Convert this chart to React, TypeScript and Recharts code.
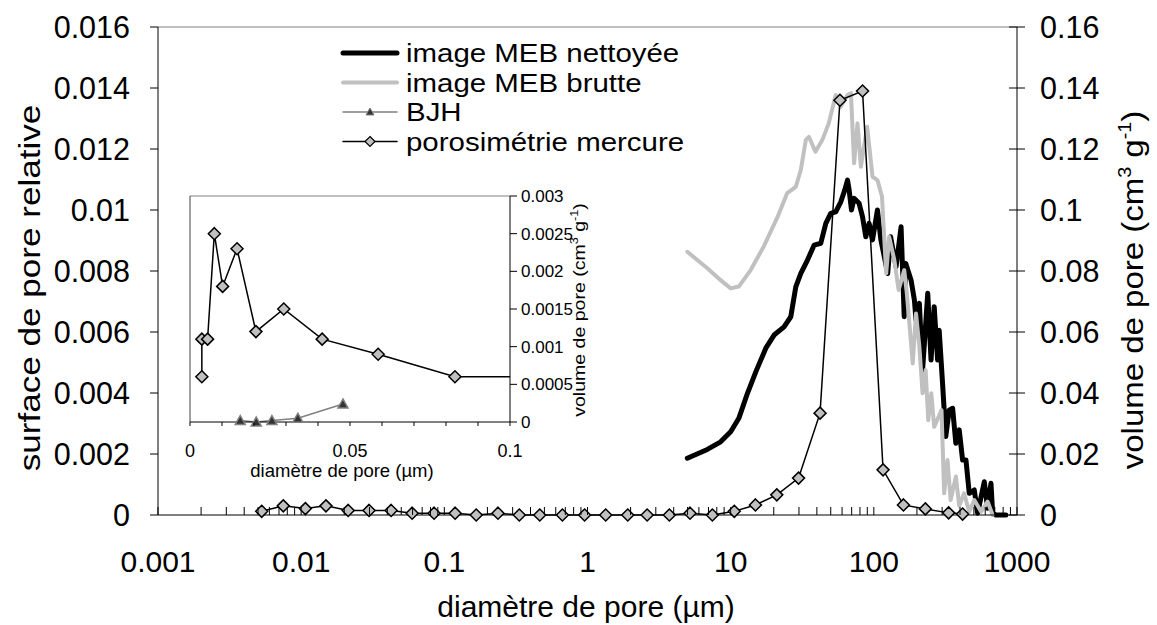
import React from "react";
import { LineChart, Line, XAxis, YAxis, ReferenceLine } from "recharts";

const FONT = "'Liberation Sans', Arial, Helvetica, sans-serif";
const W = 1157;
const H = 625;

// ---------- main chart: pore diameter (µm, log) ----------
const decadeTicks = [0.001, 0.01, 0.1, 1, 10, 100, 1000];
const decadeLabels = ["0.001", "0.01", "0.1", "1", "10", "100", "1000"];
const minorSteps = [2, 3, 4, 5, 6, 7, 8, 9];

const leftTicks = [0, 0.002, 0.004, 0.006, 0.008, 0.01, 0.012, 0.014, 0.016];
const leftLabels = ["0", "0.002", "0.004", "0.006", "0.008", "0.01", "0.012", "0.014", "0.016"];
const rightTicks = [0, 0.02, 0.04, 0.06, 0.08, 0.1, 0.12, 0.14, 0.16];
const rightLabels = ["0", "0.02", "0.04", "0.06", "0.08", "0.1", "0.12", "0.14", "0.16"];

// image MEB nettoyée (surface de pore relative)
const cleanD = [
  4.98, 6.87, 8.51, 10.0, 11.4, 13.1, 15.0, 17.6, 20.1, 23.6,
  26.3, 28.5, 30.9, 34.4, 38.3, 42.6, 46.2, 50.0, 54.2, 58.8,
  62.7, 65.5, 67.2, 69.8, 72.8, 78.9, 83.3, 87.9, 92.7, 97.9,
  106, 112, 125, 131, 143, 155, 163, 167, 182, 192,
  197, 208, 219, 238, 251, 264, 279, 286, 302, 318,
  336, 355, 374, 395, 417, 440, 464, 503, 531, 591,
  623, 658, 676, 713, 837,
];
const cleanV = [
  0.00186, 0.00215, 0.0024, 0.00273, 0.00317, 0.00399, 0.0047, 0.00547, 0.0059, 0.00617,
  0.0065, 0.00748, 0.00792, 0.00836, 0.00885, 0.00891, 0.00956, 0.00989, 0.00994, 0.01027,
  0.01066, 0.01098, 0.01066, 0.01, 0.01038, 0.01022, 0.00978, 0.00912, 0.00956, 0.00902,
  0.01, 0.00902, 0.00792, 0.00912, 0.00814, 0.00945, 0.0065, 0.00825, 0.0077, 0.00705,
  0.00639, 0.00694, 0.00475, 0.00727, 0.00508, 0.00683, 0.00508, 0.00606, 0.00432, 0.00257,
  0.00344, 0.0035, 0.00235, 0.00279, 0.0018, 0.0018, 0.00071, 0.00082, 0.00006, 0.00109,
  0.00022, 0.00104, 0.00006, 0, 0,
];

// image MEB brutte
const rawD = [
  4.98, 6.87, 8.51, 10.0, 11.4, 13.8, 17.0, 21.3, 24.8, 28.5,
  30.9, 33.5, 35.2, 39.1, 43.7, 48.4, 54.2, 58.8, 65.5, 69.2,
  72.8, 76.9, 81.2, 89.8, 97.9, 106, 114, 122, 128, 139,
  149, 163, 170, 187, 197, 208, 219, 230, 240, 252,
  264, 297, 310, 327, 344, 374, 395, 427, 464, 503,
  562, 623, 676,
];
const rawV = [
  0.00863, 0.00809, 0.0077, 0.00743, 0.00749, 0.00803, 0.0088, 0.00978, 0.01055, 0.01076,
  0.01131, 0.0123, 0.0124, 0.01191, 0.0123, 0.01284, 0.01377, 0.01339, 0.01377, 0.01383,
  0.01153, 0.01284, 0.01142, 0.01273, 0.01109, 0.01098, 0.01044, 0.00792, 0.00912, 0.00836,
  0.00738, 0.00803, 0.00727, 0.00497, 0.00661, 0.00552, 0.00399, 0.00475, 0.00311, 0.00399,
  0.00289, 0.00344, 0.00071, 0.0018, 0.00049, 0.00126, 0.0003, 0.00071, 0.00011, 0.00049,
  0.00011, 0.00044, 0,
];

// porosimétrie mercure (volume de pore, right axis)
const hgD = [
  0.0053, 0.0075, 0.0107, 0.0149, 0.0213, 0.0298, 0.0425, 0.0596, 0.0848, 0.119,
  0.167, 0.237, 0.334, 0.464, 0.668, 0.954, 1.34, 1.91, 2.61, 3.73,
  5.2, 7.45, 10.6, 14.9, 21.0, 29.8, 42.1, 58.0, 83.4, 116,
  161, 229, 333, 417,
];
const hgV = [
  0.0012, 0.003, 0.0021, 0.003, 0.0015, 0.0015, 0.0015, 0.0006, 0.0006, 0.0006,
  0, 0.0006, 0, 0, 0, 0, 0, 0, 0, 0,
  0.0006, 0, 0.0012, 0.0033, 0.0066, 0.0121, 0.0334, 0.136, 0.139, 0.0148,
  0.0033, 0.002, 0.0007, 0.0003,
];

// ---------- inset: linear diameter 0 - 0.1 µm ----------
const insetXTicks = [0, 0.01, 0.02, 0.03, 0.04, 0.05, 0.06, 0.07, 0.08, 0.09, 0.1];
const insetXLabels: Record<number, string> = { 0: "0", 5: "0.05", 10: "0.1" };
const insetYTicks = [0, 0.0005, 0.001, 0.0015, 0.002, 0.0025, 0.003];
const insetYLabels = ["0", "0.0005", "0.001", "0.0015", "0.002", "0.0025", "0.003"];

const insetHgD = [0.0037, 0.0037, 0.0055, 0.0076, 0.0102, 0.0147, 0.0206, 0.0293, 0.0413, 0.0588, 0.0828, 0.119];
const insetHgV = [0.0006, 0.0011, 0.0011, 0.0025, 0.0018, 0.0023, 0.0012, 0.0015, 0.0011, 0.0009, 0.0006, 0.0006];
const bjhD = [0.0157, 0.0207, 0.0256, 0.0337, 0.0478];
const bjhV = [0.00002, 0, 0.00002, 0.00005, 0.00024];

const legendItems = [
  { label: "image MEB nettoyée", color: "#000", width: 5, mark: "" },
  { label: "image MEB brutte", color: "#c0c0c0", width: 4, mark: "" },
  { label: "BJH", color: "#808080", width: 1.5, mark: "tri" },
  { label: "porosimétrie mercure", color: "#000", width: 1.5, mark: "dia" },
];

const rows = (d: number[], v: number[]) => d.map((x, i) => ({ d: x, v: v[i] }));

const mainXTicks = decadeTicks
  .slice(0, -1)
  .flatMap((t) => minorSteps.map((m) => +(t * m).toPrecision(6)))
  .concat(decadeTicks)
  .sort((a, b) => a - b);

function MainXTick({ x, y, payload }: any) {
  const i = decadeTicks.findIndex((t) => Math.abs(t - payload.value) / t < 1e-6);
  return (
    <g>
      <line x1={x} x2={x} y1={y} y2={y - 8} stroke="#000" />
      {i >= 0 && (
        <text x={x} y={y + 57} textAnchor="middle" fontFamily={FONT} fontSize={30} fill="#000">
          {decadeLabels[i]}
        </text>
      )}
    </g>
  );
}

function LeftTick({ x, y, index }: any) {
  return (
    <g>
      <line x1={x - 8} x2={x} y1={y} y2={y} stroke="#000" />
      <text x={x - 28} y={y} dy="0.36em" textAnchor="end" fontFamily={FONT} fontSize={30.5} fill="#000">
        {leftLabels[index]}
      </text>
    </g>
  );
}

function RightTick({ x, y, index }: any) {
  return (
    <g>
      <line x1={x - 8} x2={x + 8} y1={y} y2={y} stroke="#000" />
      <text x={x + 23} y={y} dy="0.36em" textAnchor="start" fontFamily={FONT} fontSize={30.5} fill="#000">
        {rightLabels[index]}
      </text>
    </g>
  );
}

function InsetXTick({ x, y, index }: any) {
  const label = insetXLabels[index];
  return (
    <g>
      <line x1={x} x2={x} y1={y} y2={y + 4} stroke="#000" />
      {label && (
        <text x={x} y={y + 35} textAnchor="middle" fontFamily={FONT} fontSize={18} fill="#000">
          {label}
        </text>
      )}
    </g>
  );
}

function InsetYTick({ x, y, index }: any) {
  return (
    <g>
      <line x1={x} x2={x + 7} y1={y} y2={y} stroke="#000" />
      <text x={x + 11} y={y} dy="0.36em" textAnchor="start" fontFamily={FONT} fontSize={17} fill="#000">
        {insetYLabels[index]}
      </text>
    </g>
  );
}

function Diamond({ cx, cy }: any) {
  if (cx == null || cy == null) return null;
  const r = 6;
  return (
    <path
      d={`M${cx},${cy - r}L${cx + r},${cy}L${cx},${cy + r}L${cx - r},${cy}Z`}
      fill="#c0c0c0"
      stroke="#000"
      strokeWidth={1.5}
    />
  );
}

function Triangle({ cx, cy }: any) {
  if (cx == null || cy == null) return null;
  return (
    <path
      d={`M${cx},${cy - 5}L${cx + 5},${cy + 4}L${cx - 5},${cy + 4}Z`}
      fill="#333"
      stroke="#808080"
      strokeWidth={1.5}
    />
  );
}

function Overlay() {
  return (
    <svg width={W} height={H} style={{ position: "absolute", left: 0, top: 0 }} fontFamily={FONT}>
      {legendItems.map((l, i) => {
        const y = 53 + i * 29.5;
        return (
          <g key={l.label}>
            <line x1={343} x2={397} y1={y} y2={y} stroke={l.color} strokeWidth={l.width} strokeLinecap="round" />
            {l.mark === "tri" && (
              <path d={`M370,${y - 4}L374,${y + 3}L366,${y + 3}Z`} fill="#333" stroke="#808080" />
            )}
            {l.mark === "dia" && (
              <path d={`M370,${y - 5}L375,${y}L370,${y + 5}L365,${y}Z`} fill="#c0c0c0" stroke="#000" strokeWidth={1.2} />
            )}
            <text transform={`translate(406,${y}) scale(1.155,1)`} dy="0.36em" fontSize={25.5} fill="#000">
              {l.label}
            </text>
          </g>
        );
      })}
      <text
        transform="translate(29,288) rotate(-90) scale(1.17,1)"
        textAnchor="middle"
        dy="0.36em"
        fontSize={30}
        fill="#000"
      >
        surface de pore relative
      </text>
      <text
        transform="translate(1132,290) rotate(-90) scale(1.1,1)"
        textAnchor="middle"
        dy="0.36em"
        fontSize={30}
        fill="#000"
      >
        volume de pore (cm<tspan dy={-12} fontSize={18}>3</tspan>
        <tspan dy={12}> g</tspan>
        <tspan dy={-12} fontSize={18}>-1</tspan>
        <tspan dy={12}>)</tspan>
      </text>
      <text x={586} y={617} textAnchor="middle" fontSize={30} fill="#000">
        diamètre de pore (µm)
      </text>
      <text x={342} y={470} textAnchor="middle" dy="0.36em" fontSize={18.5} fill="#000">
        diamètre de pore (µm)
      </text>
      <text
        transform="translate(579,310) rotate(-90) scale(1.15,1)"
        textAnchor="middle"
        dy="0.36em"
        fontSize={17}
        fill="#000"
      >
        volume de pore (cm<tspan dy={-7} fontSize={11}>3</tspan>
        <tspan dy={7}> g</tspan>
        <tspan dy={-7} fontSize={11}>-1</tspan>
        <tspan dy={7}>)</tspan>
      </text>
    </svg>
  );
}

export default function App() {
  return (
    <div style={{ position: "absolute", left: 0, top: 0, width: W, height: H, background: "#fff" }}>
      <div style={{ position: "absolute", left: 0, top: 0 }}>
        <LineChart width={W} height={H} margin={{ top: 27, right: 80, bottom: 80, left: 98 }}>
          <XAxis
            dataKey="d"
            type="number"
            scale="log"
            domain={[0.001, 1000]}
            ticks={mainXTicks}
            interval={0}
            tickSize={0}
            tickMargin={0}
            tickLine={false}
            tick={<MainXTick />}
            height={30}
            axisLine={{ stroke: "#000" }}
            allowDataOverflow
          />
          <YAxis
            yAxisId="left"
            type="number"
            domain={[0, 0.016]}
            ticks={leftTicks}
            interval={0}
            tickSize={0}
            tickMargin={0}
            tickLine={false}
            tick={<LeftTick />}
            width={60}
            axisLine={{ stroke: "#000" }}
          />
          <YAxis
            yAxisId="right"
            orientation="right"
            type="number"
            domain={[0, 0.16]}
            ticks={rightTicks}
            interval={0}
            tickSize={0}
            tickMargin={0}
            tickLine={false}
            tick={<RightTick />}
            width={60}
            axisLine={{ stroke: "#000" }}
          />
          <ReferenceLine yAxisId="left" y={0.016} stroke="#808080" strokeWidth={1.2} />
          <Line
            yAxisId="left"
            data={rows(cleanD, cleanV)}
            dataKey="v"
            stroke="#000"
            strokeWidth={5}
            strokeLinejoin="round"
            strokeLinecap="round"
            dot={false}
            isAnimationActive={false}
          />
          <Line
            yAxisId="left"
            data={rows(rawD, rawV)}
            dataKey="v"
            stroke="#c0c0c0"
            strokeWidth={4}
            strokeLinejoin="round"
            strokeLinecap="round"
            dot={false}
            isAnimationActive={false}
          />
          <Line
            yAxisId="right"
            data={rows(hgD, hgV)}
            dataKey="v"
            stroke="#000"
            strokeWidth={1.5}
            dot={<Diamond />}
            isAnimationActive={false}
          />
        </LineChart>
      </div>
      <div style={{ position: "absolute", left: 0, top: 0 }}>
        <LineChart width={W} height={H} margin={{ top: 196, right: 587, bottom: 173, left: 190 }}>
          <XAxis
            dataKey="d"
            type="number"
            domain={[0, 0.1]}
            ticks={insetXTicks}
            interval={0}
            tickSize={0}
            tickMargin={0}
            tickLine={false}
            tick={<InsetXTick />}
            height={30}
            axisLine={{ stroke: "#000" }}
            allowDataOverflow
          />
          <YAxis
            orientation="right"
            type="number"
            domain={[0, 0.003]}
            ticks={insetYTicks}
            interval={0}
            tickSize={0}
            tickMargin={0}
            tickLine={false}
            tick={<InsetYTick />}
            width={60}
            axisLine={{ stroke: "#000" }}
          />
          <ReferenceLine y={0.003} stroke="#808080" strokeWidth={1.2} />
          <ReferenceLine x={0} stroke="#404040" strokeWidth={1} />
          <Line
            data={rows(bjhD, bjhV)}
            dataKey="v"
            stroke="#808080"
            strokeWidth={1.5}
            dot={<Triangle />}
            isAnimationActive={false}
          />
          <Line
            data={rows(insetHgD, insetHgV)}
            dataKey="v"
            stroke="#000"
            strokeWidth={1.5}
            dot={<Diamond />}
            isAnimationActive={false}
          />
        </LineChart>
      </div>
      <Overlay />
    </div>
  );
}
